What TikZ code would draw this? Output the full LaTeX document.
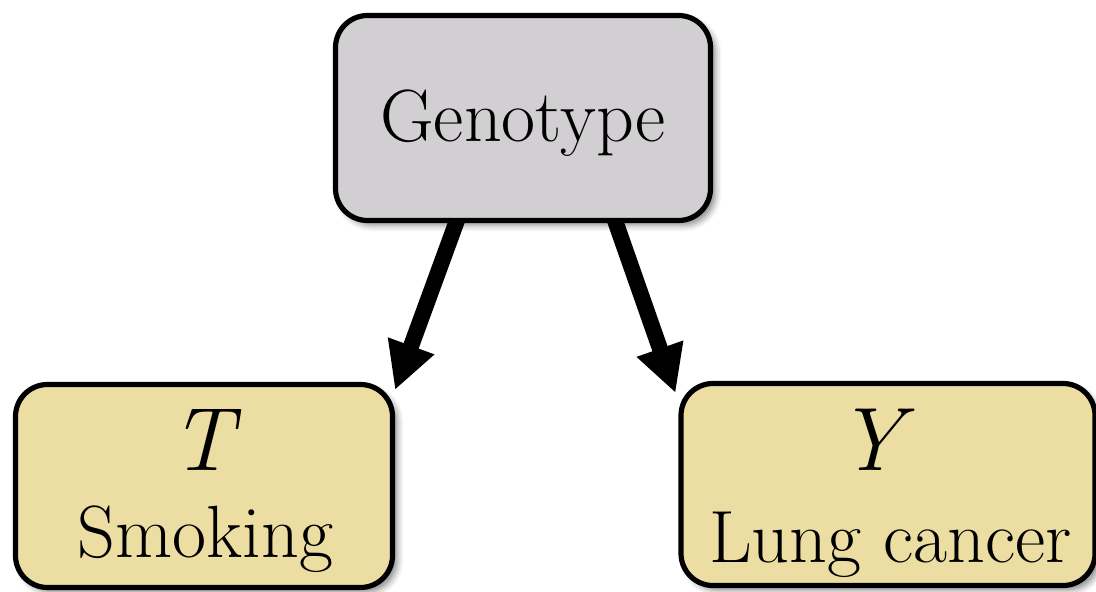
\documentclass[tikz,border=0pt]{standalone}
\usetikzlibrary{arrows.meta,shadows.blur}
\definecolor{boxgray}{RGB}{209,207,209}
\definecolor{boxtan}{RGB}{236,222,163}
\tikzset{
  card/.style={draw=black, line width=2.6pt, rounded corners=16pt,
    inner sep=0pt, outer sep=0pt,
    blur shadow={shadow xshift=2.5pt, shadow yshift=-2.5pt,
      shadow blur radius=3pt, shadow opacity=45}},
  lbl/.style={anchor=base, inner sep=0pt, font=\fontsize{37}{40}\selectfont},
  sym/.style={anchor=base, inner sep=0pt, font=\fontsize{45}{48}\selectfont\itshape},
  causal/.style={line width=8pt, -{Triangle[length=23.5pt,width=23pt]}},
}
\begin{document}
\begin{tikzpicture}[x=0.5pt, y=-0.5pt]
  \useasboundingbox (0,0) rectangle (1096,592);

  % boxes
  \node[card, fill=boxgray, minimum width=187.5pt, minimum height=102.5pt] (g) at (523,118) {};
  \node[card, fill=boxtan, minimum width=188.5pt, minimum height=101.5pt] (t) at (204,486) {};
  \node[card, fill=boxtan, minimum width=207pt, minimum height=101pt] (y) at (888,484.5) {};

  % texts
  \node[lbl] (gtxt) at (523,142) {Genotype};
  \node[sym] (tsym) at (202,470) {T};
  \node[lbl] (ttxt) at (205.5,557) {Smoking};
  \node[sym] (ysym) at (870,471) {Y};
  \node[lbl] (ytxt) at (890.5,562) {Lung cancer};

  % edges
  \draw[causal] ([xshift=-33pt]g.south) -- ([xshift=1.25pt,yshift=-2.75pt]t.north east);
  \draw[causal] ([xshift=46pt]g.south) -- ([xshift=-2.75pt,yshift=-4.75pt]y.north west);
\end{tikzpicture}
\end{document}
